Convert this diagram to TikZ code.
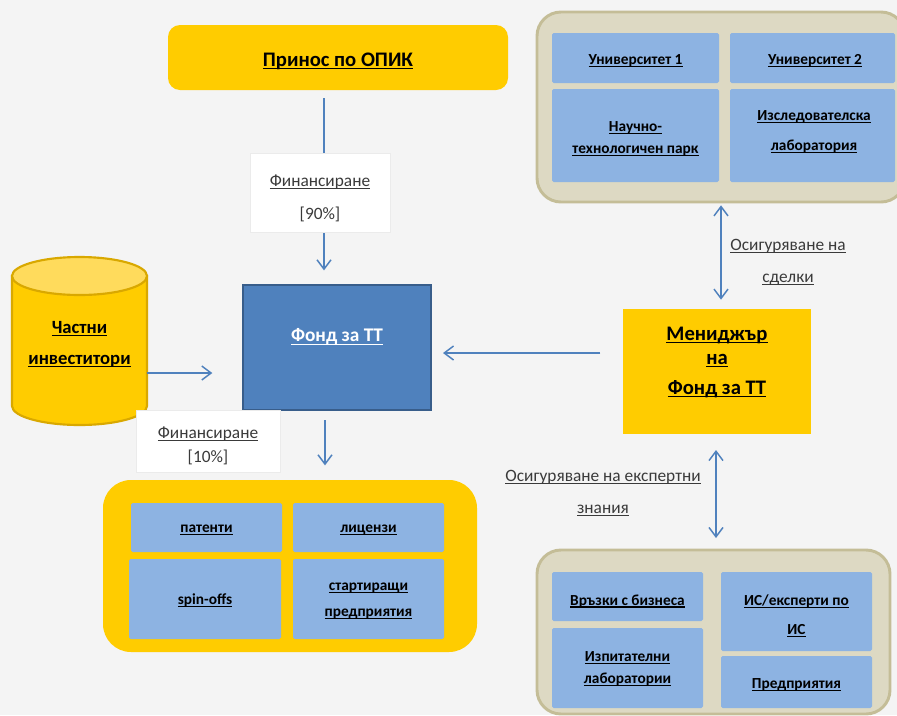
\documentclass[tikz,border=0pt]{standalone}
\usepackage{fontspec}
\setmainfont{Carlito}
\usetikzlibrary{arrows.meta,fit,calc}
\definecolor{bgc}{HTML}{F4F4F4}
\definecolor{yel}{HTML}{FFCC00}
\definecolor{yellight}{HTML}{FFDB5C}
\definecolor{yelborder}{HTML}{D9A800}
\definecolor{fundblue}{HTML}{4F81BD}
\definecolor{fundborder}{HTML}{385D8A}
\definecolor{lblue}{HTML}{8DB3E2}
\definecolor{tan}{HTML}{DDD9C3}
\definecolor{tanborder}{HTML}{C4BD97}
\definecolor{arrc}{HTML}{4F81BD}
\definecolor{txtgray}{HTML}{3A3A3A}
\newcommand\uln[1]{\mbox{\setbox0\hbox{#1}\rlap{\rule[-0.16em]{\wd0}{0.07em}}\box0}}
\newcommand\fsInner{\fontsize{11.5}{15}\selectfont}
\newcommand\fsLab{\fontsize{13}{24}\selectfont}
\begin{document}
\begin{tikzpicture}[x=0.75pt,y=-0.75pt,
  area/.style={inner sep=0pt, outer sep=0pt},
  innerbox/.style={area, fill=lblue, rounded corners=1.2pt},
  itext/.style={align=center, inner sep=0pt, font=\fsInner\bfseries},
  tanouter/.style={area, fill=tan, draw=tanborder, line width=2.2pt, rounded corners=18pt},
  labbox/.style={area, fill=white, draw=black!8, line width=0.6pt},
  arrtext/.style={align=center, font=\fsLab, text=txtgray, inner sep=0pt},
  arr/.style={draw=arrc, line width=1.1pt, -{Straight Barb[length=7pt,width=10.5pt,line width=1.1pt]}},
  darr/.style={draw=arrc, line width=1.1pt, {Straight Barb[length=7pt,width=10.5pt,line width=1.1pt]}-{Straight Barb[length=7pt,width=10.5pt,line width=1.1pt]}}
]
\useasboundingbox[fill=bgc] (0,0) rectangle (897,715);

% top yellow box
\node[area, fill=yel, rounded corners=9pt, fit={(168,25) (508,90)}] (opik) {};
\node[inner sep=0pt, font=\fontsize{15.5}{18}\selectfont\bfseries] (opiktxt) at (338,61) {\uln{Принос по ОПИК}};

% fund
\node[area, fill=fundblue, draw=fundborder, line width=1.6pt, fit={(243,285) (431,410)}] (fund) {};
\node[text=white, font=\fontsize{14.5}{18}\selectfont\bfseries, inner sep=0pt] (fundtxt) at (337,337) {\uln{Фонд за ТТ}};

% cylinder
\path[fill=yel, draw=yelborder, line width=1.6pt]
  (12,276) -- (12,406) arc[start angle=180, end angle=360, x radius=50.625pt, y radius=14.25pt]
  -- (147,276) -- cycle;
\path[fill=yellight, draw=yelborder, line width=1.6pt] (79.5,276) ellipse [x radius=50.625pt, y radius=14.25pt];
\node[area, fit={(12,257) (147,425)}] (cyl) {};
\node[align=center, font=\fontsize{14}{23.25}\selectfont\bfseries, inner sep=0pt] (cyltxt) at (79.5,344) {\uln{Частни}\\\uln{инвеститори}};

% bottom-left yellow container
\node[area, fill=yel, rounded corners=21pt, fit={(103,480) (477,652)}] (out) {};
\node[innerbox, fit={(131,503) (282,552)}] (pat) {};
\node[innerbox, fit={(293,503) (444,552)}] (lic) {};
\node[innerbox, fit={(129,559) (281,639)}] (spin) {};
\node[innerbox, fit={(293,559) (444,639)}] (start) {};
\node[itext] (pattxt) at (206.5,530) {\uln{патенти}};
\node[itext] (lictxt) at (368.5,530) {\uln{лицензи}};
\node[itext] (spintxt) at (205,600) {\uln{spin-offs}};
\node[itext, font=\fontsize{11.5}{20}\selectfont\bfseries] (starttxt) at (368.5,601) {\uln{стартиращи}\\\uln{предприятия}};

% manager
\node[area, fill=yel, fit={(623,309) (811,434)}] (mgr) {};
\node[align=center, font=\fontsize{15.5}{18}\selectfont\bfseries, inner sep=0pt] (mgrtxt) at (717,362)
  {\uln{Мениджър}\\\uln{на}\\[4.5pt]\uln{Фонд за ТТ}};

% top-right container
\node[tanouter, fit={(537,12) (905,202)}] (uni) {};
\node[innerbox, fit={(552,33) (719,83)}] (u1) {};
\node[innerbox, fit={(730,33) (895,83)}] (u2) {};
\node[innerbox, fit={(552,89) (719,182)}] (park) {};
\node[innerbox, fit={(730,89) (895,182)}] (lab) {};
\node[itext] (u1txt) at (635.5,61) {\uln{Университет 1}};
\node[itext] (u2txt) at (815,61) {\uln{Университет 2}};
\node[itext, font=\fontsize{11.5}{16.5}\selectfont\bfseries] (parktxt) at (635.5,139) {\uln{Научно-}\\\uln{технологичен парк}};
\node[itext, font=\fontsize{11.5}{22.5}\selectfont\bfseries] (labtxt) at (814,132) {\uln{Изследователска}\\\uln{лаборатория}};

% bottom-right container
\node[tanouter, fit={(537,550) (890,714)}] (exp) {};
\node[innerbox, fit={(552,572) (703,621)}] (biz) {};
\node[innerbox, fit={(552,628) (703,708)}] (test) {};
\node[innerbox, fit={(721,572) (872,651)}] (ip) {};
\node[innerbox, fit={(721,656) (872,708)}] (ent) {};
\node[itext] (biztxt) at (627.5,601) {\uln{Връзки с бизнеса}};
\node[itext, font=\fontsize{11.5}{16.5}\selectfont\bfseries] (testtxt) at (627.5,669) {\uln{Изпитателни}\\\uln{лаборатории}};
\node[itext, font=\fontsize{11.5}{21.5}\selectfont\bfseries] (iptxt) at (796.5,616) {\uln{ИС/експерти по}\\\uln{ИС}};
\node[itext] (enttxt) at (796.5,685) {\uln{Предприятия}};

% connector guide coordinates
\coordinate (xa) at (324,0);
\coordinate (xb) at (325,0);
\coordinate (ya) at (0,373);
\coordinate (yb) at (0,353);
\coordinate (xc) at (721,0);
\coordinate (xd) at (716,0);

% connectors
\draw[arr, shorten <=6pt, shorten >=11pt] (opik.south -| xa) -- (fund.north -| xa);
\draw[arr, shorten >=23pt] (cyl.east |- ya) -- (fund.west |- ya);
\draw[arr, shorten <=7.5pt, shorten >=11pt] (fund.south -| xb) -- (out.north -| xb);
\draw[arr, shorten <=17pt, shorten >=9pt] (mgr.west |- yb) -- (fund.east |- yb);
\draw[darr, shorten <=2.5pt, shorten >=7pt] (uni.south -| xc) -- (mgr.north -| xc);
\draw[darr, shorten <=12pt, shorten >=9pt] (mgr.south -| xd) -- (exp.north -| xd);

% labels on connectors
\node[labbox, fit={(250,153) (390,232)}] (l90) {};
\node[arrtext, font=\fontsize{13}{24.75}\selectfont] (l90txt) at (320,198) {\uln{Финансиране}\\{[}90\%{]}};
\node[labbox, fit={(136,410) (280,472)}] (l10) {};
\node[arrtext, font=\fontsize{13}{18}\selectfont] (l10txt) at (208,446) {\uln{Финансиране}\\{[}10\%{]}};
\node[arrtext] (lsd) at (788,262) {\uln{Осигуряване на}\\\uln{сделки}};
\node[arrtext] (lex) at (603,493) {\uln{Осигуряване на експертни}\\\uln{знания}};
\end{tikzpicture}
\end{document}
